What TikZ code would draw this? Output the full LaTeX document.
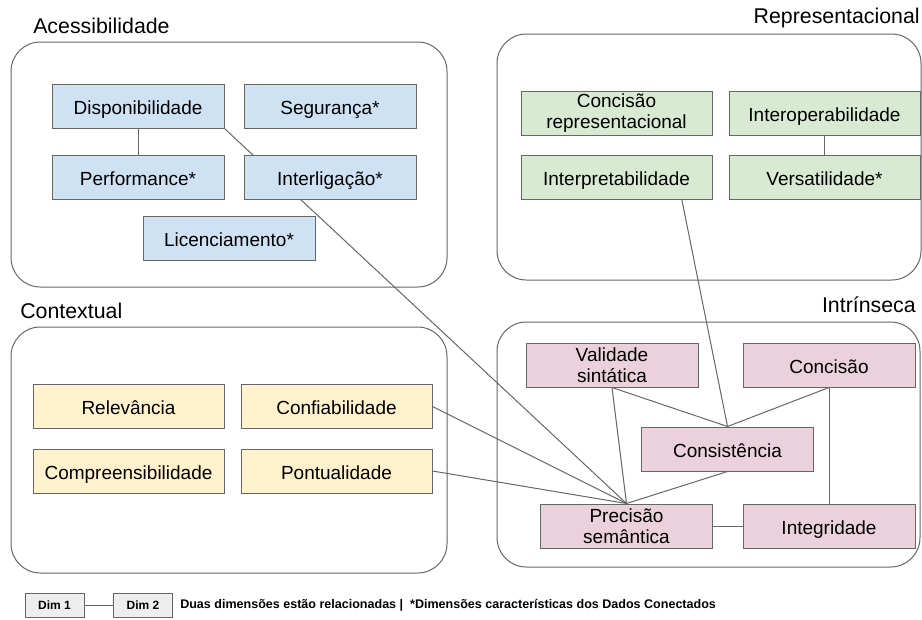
\documentclass[tikz,border=0pt]{standalone}
\usepackage{fontspec}
\setmainfont{Liberation Sans}
\usepackage{tikz}
\usetikzlibrary{backgrounds, calc}

\definecolor{acccol}{HTML}{CFE2F3}
\definecolor{repcol}{HTML}{D9EAD3}
\definecolor{ctxcol}{HTML}{FFF2CC}
\definecolor{intcol}{HTML}{EAD1DC}
\definecolor{legcol}{HTML}{EEEEEE}
\definecolor{edgecol}{HTML}{666666}

\tikzset{
  dimbox/.style={draw=edgecol, line width=0.75pt, inner sep=0pt, align=center,
    minimum width=129pt, minimum height=33pt,
    font=\fontsize{14.25}{15.5}\selectfont},
  oneline/.style={dimbox, text height=12.5pt, text depth=0.5pt},
  groupbox/.style={draw=edgecol, line width=0.75pt, rounded corners=22pt},
  grouplabel/.style={inner sep=0.75pt, font=\fontsize{16}{19}\selectfont},
  link/.style={draw=edgecol, line width=0.75pt},
  legbox/.style={draw=edgecol, fill=legcol, line width=0.75pt, inner sep=0pt,
    minimum width=44.25pt, minimum height=18pt, font=\fontsize{9}{10}\bfseries\selectfont}
}

\begin{document}
\begin{tikzpicture}[x=0.75pt,y=0.75pt,yscale=-1,xscale=1]
\useasboundingbox (0,0) rectangle (922,619);

%Shape: Rounded Rect [id:acessibilidade]
\draw [groupbox] (11,42) rectangle (447,287);
%Shape: Rounded Rect [id:representacional]
\draw [groupbox] (497,34) rectangle (921,280);
%Shape: Rounded Rect [id:contextual]
\draw [groupbox] (11,327) rectangle (447,573);
%Shape: Rounded Rect [id:intrinseca]
\draw [groupbox] (497,322) rectangle (920,567);

% Text Node
\node [grouplabel, anchor=west] (accTitle) at (32,26) {Acessibilidade};
% Text Node
\node [grouplabel, anchor=east] (repTitle) at (921,18) {Representacional};
% Text Node
\node [grouplabel, anchor=west] (ctxTitle) at (19,311) {Contextual};
% Text Node
\node [grouplabel, anchor=east] (intTitle) at (917,305) {Intrínseca};

% Acessibilidade
\node [oneline, fill=acccol] (disp) at (138,106) {Disponibilidade};
\node [oneline, fill=acccol] (seg) at (330,106) {Segurança*};
\node [oneline, fill=acccol] (perf) at (138,177) {Performance*};
\node [oneline, fill=acccol] (interl) at (330,177) {Interligação*};
\node [oneline, fill=acccol] (lic) at (229,238.5) {Licenciamento*};

% Representacional
\node [dimbox, fill=repcol, minimum width=143.25pt] (concrep) at (616.5,113) {Concisão\\representacional};
\node [oneline, fill=repcol, minimum width=143.25pt] (interop) at (824.5,113) {Interoperabilidade};
\node [oneline, fill=repcol, minimum width=143.25pt] (interp) at (616.5,177) {Interpretabilidade};
\node [oneline, fill=repcol, minimum width=143.25pt] (vers) at (824.5,177) {Versatilidade*};

% Contextual
\node [oneline, fill=ctxcol, minimum width=143.25pt] (relev) at (128.5,406.5) {Relevância};
\node [oneline, fill=ctxcol, minimum width=143.25pt] (confi) at (336.5,406.5) {Confiabilidade};
\node [oneline, fill=ctxcol, minimum width=143.25pt] (compr) at (128.5,471) {Compreensibilidade};
\node [oneline, fill=ctxcol, minimum width=143.25pt] (pont) at (336.5,471) {Pontualidade};

% Intrinseca
\node [dimbox, fill=intcol] (valid) at (612,365) {Validade\\sintática};
\node [oneline, fill=intcol] (conc) at (829,365) {Concisão};
\node [oneline, fill=intcol] (cons) at (727.5,449) {Consistência};
\node [dimbox, fill=intcol] (prec) at (626.5,526) {Precisão\\semântica};
\node [oneline, fill=intcol] (integ) at (829,526) {Integridade};

% Legend
\node [legbox] (dimA) at (54.5,605) {Dim 1};
\node [legbox] (dimB) at (143,605) {Dim 2};
\node [anchor=west, inner sep=0pt, font=\fontsize{9.4}{11}\bfseries\selectfont] (legText) at (180,605.5)
  {Duas dimensões estão relacionadas |\ \ *Dimensões características dos Dados Conectados};

%Straight Lines
\begin{pgfonlayer}{background}
\draw [link] (disp.south) -- (perf.north);
\draw [link] (disp.south east) -- (prec.north);
\draw [link] (interop.south) -- (vers.north);
\draw [link] ($(interp.south east)!0.16!(interp.south west)$) -- (cons.north);
\draw [link] (confi.east) -- (prec.north);
\draw [link] (pont.east) -- (prec.north);
\draw [link] (valid.south) -- (prec.north);
\draw [link] (valid.south) -- (cons.north);
\draw [link] (conc.south) -- (cons.north);
\draw [link] (conc.south) -- (integ.north);
\draw [link] (cons.south) -- (prec.north);
\draw [link] (prec.east) -- (integ.west);
\draw [link] (dimA.east) -- (dimB.west);
\end{pgfonlayer}

\end{tikzpicture}
\end{document}
